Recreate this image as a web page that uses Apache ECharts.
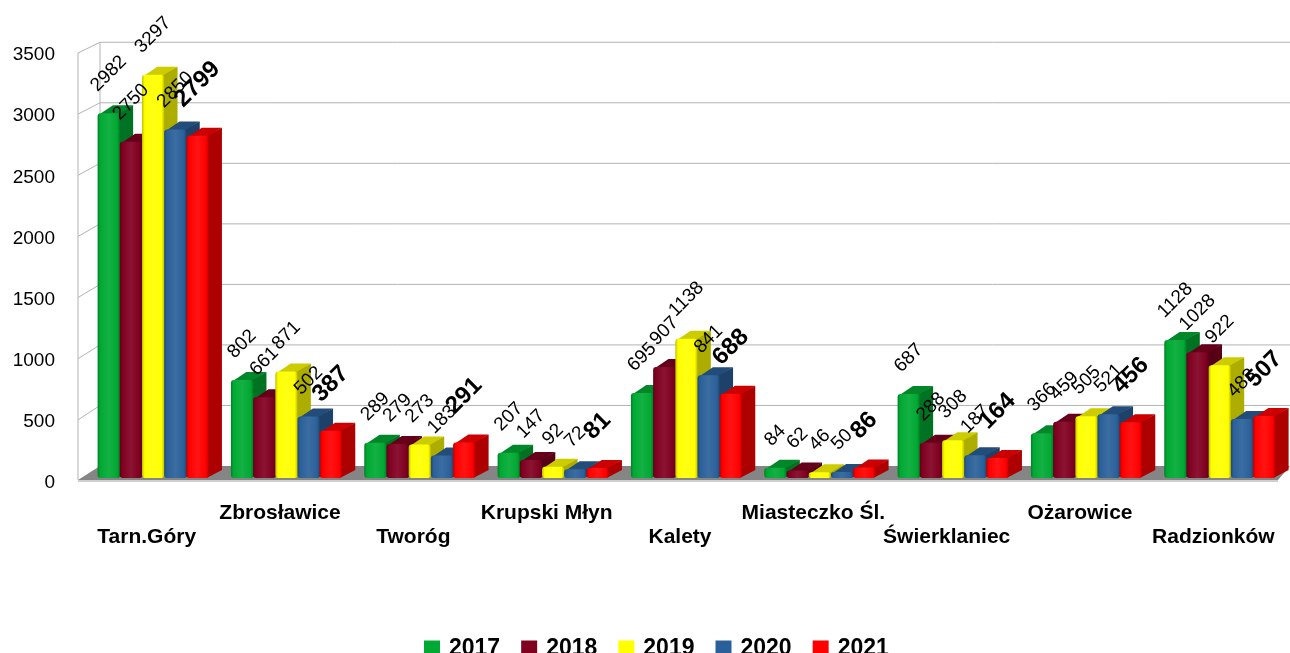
<!DOCTYPE html>
<html>
<head>
<meta charset="utf-8">
<script src="https://cdn.jsdelivr.net/npm/echarts@6/dist/echarts.min.js"></script>
<style>
  html, body { margin: 0; padding: 0; background: #fff; }
  #main { width: 1290px; height: 653px; }
</style>
</head>
<body>
<div id="main"></div>
<script>
// data
var categories = ['Tarn.Góry', 'Zbrosławice', 'Tworóg', 'Krupski Młyn', 'Kalety', 'Miasteczko Śl.', 'Świerklaniec', 'Ożarowice', 'Radzionków'];
var years = ['2017', '2018', '2019', '2020', '2021'];
var v2017 = [2982, 802, 289, 207, 695, 84, 687, 366, 1128];
var v2018 = [2750, 661, 279, 147, 907, 62, 288, 459, 1028];
var v2019 = [3297, 871, 273, 92, 1138, 46, 308, 505, 922];
var v2020 = [2850, 502, 183, 72, 841, 50, 187, 521, 483];
var v2021 = [2799, 387, 291, 81, 688, 86, 164, 456, 507];
var yTicks = [0, 500, 1000, 1500, 2000, 2500, 3000, 3500];

var values = [v2017, v2018, v2019, v2020, v2021];
var colors = ['#00a933', '#800020', '#ffff00', '#2a6099', '#ff0000'];
var FONT = '"Liberation Sans", Arial, sans-serif';

// bar geometry, as a share of the category band
var OFFSET = 0.132, BAR_W = 0.1665, DX = 0.1, DY = -8;

function shade(hex, k) {
  // k < 0 darker, k > 0 lighter
  var c = echarts.color.parse(hex);
  var out = [];
  for (var i = 0; i < 3; i++) {
    var v = k < 0 ? c[i] * (1 + k) : c[i] + (255 - c[i]) * k;
    out.push(Math.round(v));
  }
  return 'rgb(' + out.join(',') + ')';
}

function renderBar(params, api) {
  var s = params.seriesIndex - 1;
  var ci = api.value(0), val = api.value(1);
  var base = api.coord([ci, 0]);
  var topP = api.coord([ci, val]);
  var band = api.size([1, 0])[0];
  var w = band * BAR_W, dx = band * DX, dy = DY;
  var x0 = base[0] - band / 2 + band * OFFSET + s * w;
  var x1 = x0 + w;
  var yb = base[1], yt = topP[1];
  var col = colors[s];
  var side = shade(col, -0.32), topc = shade(col, -0.2);
  var grad = new echarts.graphic.LinearGradient(0, 0, 1, 0, [
    { offset: 0, color: shade(col, -0.25) },
    { offset: 0.12, color: col },
    { offset: 0.5, color: shade(col, 0.08) },
    { offset: 0.88, color: col },
    { offset: 1, color: shade(col, -0.25) }
  ]);
  var bold = s === 4;
  var fs = bold ? 24 : 19;
  var txt = String(val);
  var L = txt.length * fs * 0.556;
  var gap = bold ? 24 : 18;
  var off = (L + fs) * 0.354;
  return {
    type: 'group',
    children: [
      { type: 'polygon', shape: { points: [[x1 - 2, yt], [x1 + dx, yt + dy], [x1 + dx, yb + dy], [x1 - 2, yb]] },
        style: { fill: side } },
      { type: 'polygon', shape: { points: [[x0 + 2, yt + 1], [x1 - 2, yt + 1], [x1 + dx, yt + dy], [x0 + dx + 2, yt + dy]] },
        style: { fill: topc } },
      { type: 'rect', shape: { x: x0, y: yt, width: w, height: yb - yt, r: 3 },
        style: { fill: grad } },
      { type: 'text', x: (x0 + x1) / 2, y: yt - gap - off, rotation: Math.PI / 4, z2: 100,
        style: { text: txt, fill: '#000', font: (bold ? 'bold ' : '') + fs + 'px ' + FONT,
          align: 'center', verticalAlign: 'middle' } }
    ]
  };
}

function renderWall(params, api) {
  var cs = params.coordSys;
  var left = cs.x;
  var y0 = api.coord([0, 0])[1];
  var wdx = 20, wdy = -12, shrink = 0.99;
  function backY(y) { return y0 + wdy + (y - y0) * shrink; }
  var kids = [];
  // floor
  kids.push({ type: 'polygon', shape: { points: [[left - 2, y0 + 2], [1278, y0 + 2], [1290, y0 + wdy], [left + wdx, y0 + wdy]] },
    style: { fill: '#858585' } });
  kids.push({ type: 'line', shape: { x1: left - 2, y1: y0 + 3, x2: 1278, y2: y0 + 3 },
    style: { stroke: '#cfcfcf', lineWidth: 2 } });
  yTicks.forEach(function (t) {
    var y = api.coord([0, t])[1];
    if (t > 0) {
      kids.push({ type: 'line', shape: { x1: left + wdx, y1: backY(y), x2: 1290, y2: backY(y) },
        style: { stroke: '#b3b3b3', lineWidth: 1 } });
      kids.push({ type: 'line', shape: { x1: left - 2, y1: y + 3, x2: left + wdx, y2: backY(y) },
        style: { stroke: '#b3b3b3', lineWidth: 1 } });
    }
  });
  var yTop = api.coord([0, yTicks[yTicks.length - 1]])[1];
  kids.push({ type: 'line', shape: { x1: left - 2, y1: yTop + 3, x2: left - 2, y2: y0 + 2 },
    style: { stroke: '#b3b3b3', lineWidth: 1 } });
  kids.push({ type: 'line', shape: { x1: left + wdx, y1: backY(yTop), x2: left + wdx, y2: y0 + wdy },
    style: { stroke: '#b3b3b3', lineWidth: 1 } });
  return { type: 'group', children: kids };
}

var series = [{
  type: 'custom',
  name: 'wall',
  z: 1,
  silent: true,
  renderItem: renderWall,
  data: [[0, 0]]
}];
years.forEach(function (y, i) {
  series.push({
    type: 'custom',
    name: y,
    z: 2,
    itemStyle: { color: colors[i] },
    renderItem: renderBar,
    data: values[i].map(function (v, k) { return [k, v]; })
  });
});

var chart = echarts.init(document.getElementById('main'));
chart.setOption({
  animation: false,
  backgroundColor: '#fff',
  textStyle: { fontFamily: FONT },
  grid: { left: 80, width: 1200, top: 50, bottom: 175 },
  legend: {
    data: years,
    left: 419,
    top: 632,
    icon: 'rect',
    itemWidth: 16,
    itemHeight: 16,
    itemGap: 21,
    textStyle: { fontSize: 23, fontWeight: 'bold', color: '#000', fontFamily: FONT, padding: [0, 0, 0, 4] }
  },
  xAxis: {
    type: 'category',
    data: categories,
    axisLine: { show: false },
    axisTick: { show: false },
    axisLabel: {
      interval: 0,
      margin: 23,
      fontSize: 21,
      fontWeight: 'bold',
      color: '#000',
      fontFamily: FONT,
      lineHeight: 24,
      formatter: function (v, i) { return i % 2 === 0 ? '\n' + v : v + '\n'; }
    }
  },
  yAxis: {
    type: 'value',
    min: 0,
    max: 3500,
    interval: 500,
    axisLine: { show: false },
    axisTick: { show: false },
    splitLine: { show: false },
    axisLabel: {
      margin: 25,
      formatter: function (v) { return '{t|' + v + '}'; },
      rich: {
        t: { fontSize: 19, color: '#000', fontFamily: FONT, padding: [10, 0, 0, 0] }
      }
    }
  },
  series: series
});
</script>
</body>
</html>
